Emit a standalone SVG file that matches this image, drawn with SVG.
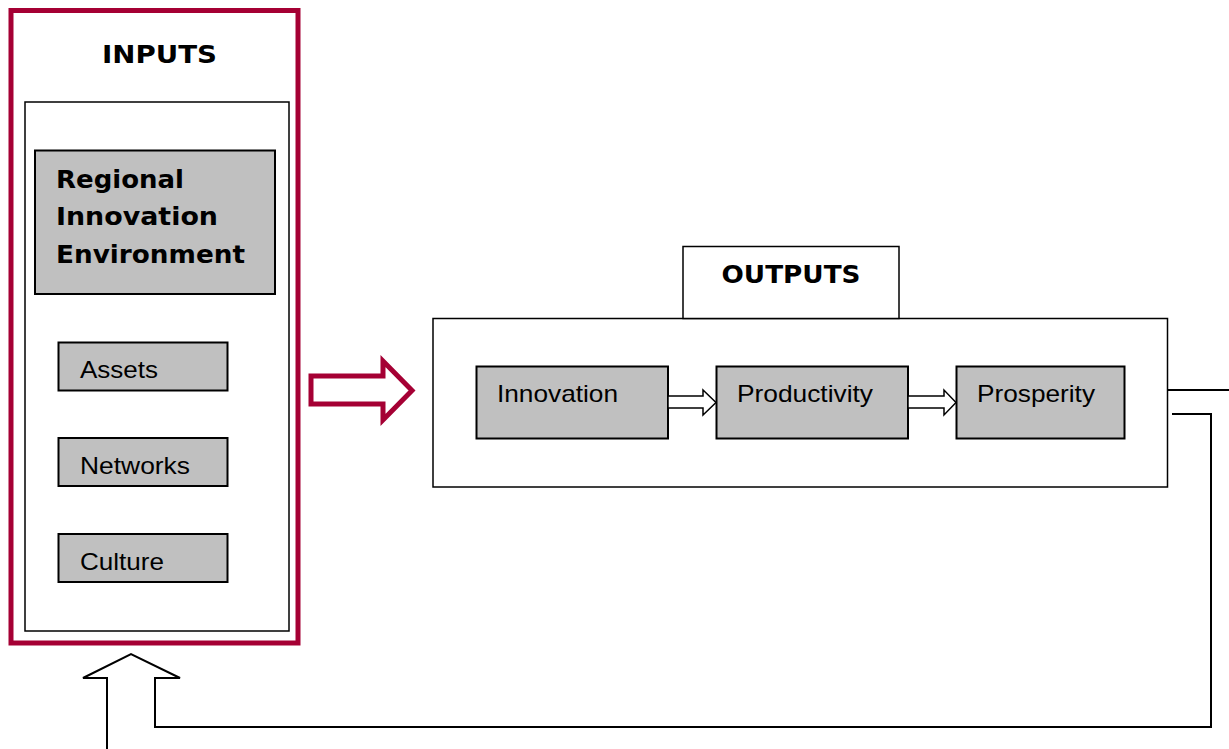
<svg xmlns="http://www.w3.org/2000/svg" width="1229" height="749" viewBox="0 0 1229 749">
<style>
.box{fill:#fff;stroke:#000;stroke-width:1.5}
.gbox{fill:#C0C0C0;stroke:#000;stroke-width:2}
.bold{font-family:"DejaVu Sans",Verdana,sans-serif;font-weight:bold;font-size:25px;fill:#000}
.reg{font-family:"Liberation Sans",Arial,sans-serif;font-size:24px;fill:#000}
.conn{fill:none;stroke:#000;stroke-width:2}
.hollow{fill:#fff;stroke:#000;stroke-width:1.5}
</style>
<rect width="1229" height="749" fill="#fff"/>
<g id="inputs">
<rect x="11" y="10.5" width="287" height="632.5" fill="#fff" stroke="#A50034" stroke-width="5"/>
<text class="bold" x="159.5" y="63" text-anchor="middle" textLength="115" lengthAdjust="spacingAndGlyphs">INPUTS</text>
<rect class="box" x="25" y="102" width="264" height="529"/>
</g>
<g id="regional-innovation-environment">
<rect class="gbox" x="35" y="150.5" width="240" height="143.5"/>
<text class="bold" x="56" y="188" textLength="128" lengthAdjust="spacingAndGlyphs">Regional</text>
<text class="bold" x="56" y="225" textLength="162" lengthAdjust="spacingAndGlyphs">Innovation</text>
<text class="bold" x="56" y="263" textLength="189" lengthAdjust="spacingAndGlyphs">Environment</text>
</g>
<g id="assets">
<rect class="gbox" x="58.5" y="342.5" width="169" height="48"/>
<text class="reg" x="80" y="378" textLength="78" lengthAdjust="spacingAndGlyphs">Assets</text>
</g>
<g id="networks">
<rect class="gbox" x="58.5" y="438" width="169" height="48"/>
<text class="reg" x="80" y="474" textLength="110" lengthAdjust="spacingAndGlyphs">Networks</text>
</g>
<g id="culture">
<rect class="gbox" x="58.5" y="534" width="169" height="48"/>
<text class="reg" x="80" y="570" textLength="84" lengthAdjust="spacingAndGlyphs">Culture</text>
</g>
<g id="outputs">
<rect class="box" x="433" y="318.5" width="734.5" height="168.5"/>
<rect class="box" x="683" y="246.5" width="216" height="72"/>
<text class="bold" x="791" y="283" text-anchor="middle" textLength="139" lengthAdjust="spacingAndGlyphs">OUTPUTS</text>
</g>
<g id="innovation">
<rect class="gbox" x="476.5" y="366.5" width="191.5" height="72"/>
<text class="reg" x="497" y="402" textLength="121" lengthAdjust="spacingAndGlyphs">Innovation</text>
</g>
<g id="productivity">
<rect class="gbox" x="716.5" y="366.5" width="191.5" height="72"/>
<text class="reg" x="737" y="402" textLength="136" lengthAdjust="spacingAndGlyphs">Productivity</text>
</g>
<g id="prosperity">
<rect class="gbox" x="956.5" y="366.5" width="168" height="72"/>
<text class="reg" x="977" y="402" textLength="118" lengthAdjust="spacingAndGlyphs">Prosperity</text>
</g>
<g id="connectors">
<path d="M311,376 L383,376 L383,361 L412,390.5 L383,420 L383,404 L311,404 Z" fill="#fff" stroke="#A50034" stroke-width="5" stroke-linejoin="miter"/>
<path class="hollow" d="M668,396 L703,396 L703,390 L716,402.5 L703,415 L703,408 L668,408 Z"/>
<path class="hollow" d="M908,396 L944,396 L944,390 L956,402.5 L944,415 L944,408 L908,408 Z"/>
<path class="conn" d="M1168,390 L1229,390"/>
<path class="conn" d="M1172,414 L1211,414 L1211,727 L155,727 L155,678 L180,678 L131,654 L83,678 L107,678 L107,749"/>
</g>
</svg>
